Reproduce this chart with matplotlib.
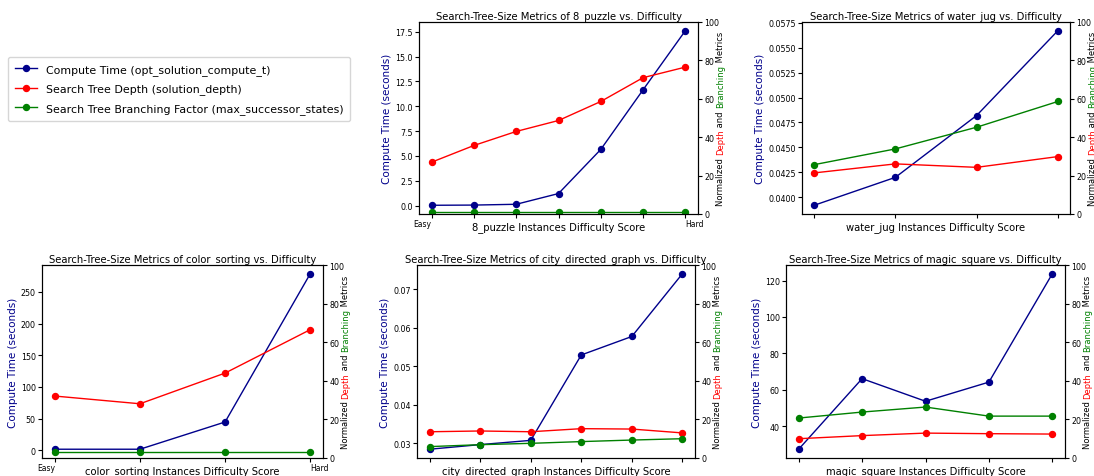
import numpy as np
import matplotlib
matplotlib.use("Agg")
import matplotlib.pyplot as plt
from matplotlib.lines import Line2D

W, H = 1094, 477

# compute time (left axis), normalized depth / branching (right axis, 0-100)
time_8_puzzle = [0.03, 0.05, 0.13, 1.21, 5.65, 11.65, 17.6]
depth_8_puzzle = [27.0, 35.7, 43.0, 48.7, 58.6, 71.0, 76.5]
branch_8_puzzle = [1.2, 1.2, 1.2, 1.2, 1.2, 1.2, 1.2]

time_water_jug = [0.0392, 0.0420, 0.0482, 0.0567]
depth_water_jug = [21.4, 26.1, 24.3, 29.9]
branch_water_jug = [25.7, 33.9, 45.2, 58.6]

time_color_sorting = [1.6, 1.6, 44.6, 278.7]
depth_color_sorting = [32.1, 28.1, 44.0, 66.5]
branch_color_sorting = [3.3, 3.3, 3.3, 3.3]

time_city = [0.0284, 0.0296, 0.0307, 0.0529, 0.0577, 0.0740]
depth_city = [13.6, 14.0, 13.6, 15.2, 15.0, 13.0]
branch_city = [5.9, 6.9, 7.6, 8.5, 9.3, 10.0]

time_magic = [27.5, 66.2, 53.8, 64.3, 123.7]
depth_magic = [10.0, 11.6, 12.9, 12.6, 12.4]
branch_magic = [20.7, 23.8, 26.4, 21.7, 21.7]

panels = [
    ("8_puzzle", time_8_puzzle, depth_8_puzzle, branch_8_puzzle, True, (419, 698, 23, 215)),
    ("water_jug", time_water_jug, depth_water_jug, branch_water_jug, False, (802, 1070, 23, 215)),
    ("color_sorting", time_color_sorting, depth_color_sorting, branch_color_sorting, True, (42, 323, 266, 459)),
    ("city_directed_graph", time_city, depth_city, branch_city, False, (417, 695, 266, 459)),
    ("magic_square", time_magic, depth_magic, branch_magic, False, (786, 1065, 266, 459)),
]

TICK = 5.7
MS = 4.3
fig = plt.figure(figsize=(W / 100, H / 100), dpi=100)
renderer = fig.canvas.get_renderer()


def text_width(s, size):
    t = fig.text(0, 0, s + "|", fontsize=size)
    w1 = t.get_window_extent(renderer).width
    t.set_text("|")
    w2 = t.get_window_extent(renderer).width
    t.remove()
    return w1 - w2


def right_label(ax, size=6.0):
    # multi-coloured label next to the right axis
    parts = [("Normalized ", "black"), ("Depth", "red"), (" and ", "black"),
             ("Branching", "green"), (" Metrics", "black")]
    full = "".join(p for p, c in parts)
    total = text_width(full, size)
    bb = ax.get_position()
    x = bb.x1 * W + 25
    y0 = (bb.y0 + bb.y1) / 2 * H - total / 2
    prefix = ""
    for piece, col in parts:
        off = text_width(prefix, size) if prefix else 0
        fig.text(x / W, (y0 + off) / H, piece, color=col, fontsize=size,
                 rotation=90, rotation_mode="anchor", ha="left", va="baseline")
        prefix += piece


for name, t, d, b, easy_hard, (l, r, top, bot) in panels:
    ax = fig.add_axes([l / W, 1 - bot / H, (r - l) / W, (bot - top) / H])
    x = np.arange(len(t))
    ax.plot(x, t, color="darkblue", marker="o", markersize=MS, linewidth=1)
    ax.set_ylabel("Compute Time (seconds)", color="darkblue", fontsize=7.5, labelpad=2)
    ax.set_xlabel(f"{name} Instances Difficulty Score", fontsize=7.2)
    ax.xaxis.set_label_coords(0.5, -7.5 / (bot - top))
    ax.set_title(f"Search-Tree-Size Metrics of {name} vs. Difficulty", fontsize=7.2, pad=3)
    ax.tick_params(labelsize=TICK, length=3, pad=1.5)
    ax.set_xticks(x)
    labels = [""] * len(x)
    if easy_hard:
        labels[0] = "Easy"
        labels[-1] = "Hard"
    ax.set_xticklabels(labels, fontsize=5.5)
    ax.tick_params(axis="x", pad=0.5)
    if easy_hard:
        tl = ax.get_xticklabels()
        tl[0].set_ha("right")
        tl[-1].set_ha("left")

    ax2 = ax.twinx()
    ax2.plot(x, d, color="red", marker="o", markersize=MS, linewidth=1)
    ax2.plot(x, b, color="green", marker="o", markersize=MS, linewidth=1)
    ax2.set_ylim(0, 100)
    ax2.tick_params(labelsize=TICK, length=3, pad=1.5)
    right_label(ax)

handles = [
    Line2D([], [], color="darkblue", marker="o", markersize=MS, linewidth=1),
    Line2D([], [], color="red", marker="o", markersize=MS, linewidth=1),
    Line2D([], [], color="green", marker="o", markersize=MS, linewidth=1),
]
names = ["Compute Time (opt_solution_compute_t)",
         "Search Tree Depth (solution_depth)",
         "Search Tree Branching Factor (max_successor_states)"]
fig.legend(handles, names, loc="center", bbox_to_anchor=(179 / W, 1 - 90 / H),
           fontsize=7.9, handlelength=2, borderpad=0.6, labelspacing=0.8)

fig.savefig("out.png", dpi=100)
